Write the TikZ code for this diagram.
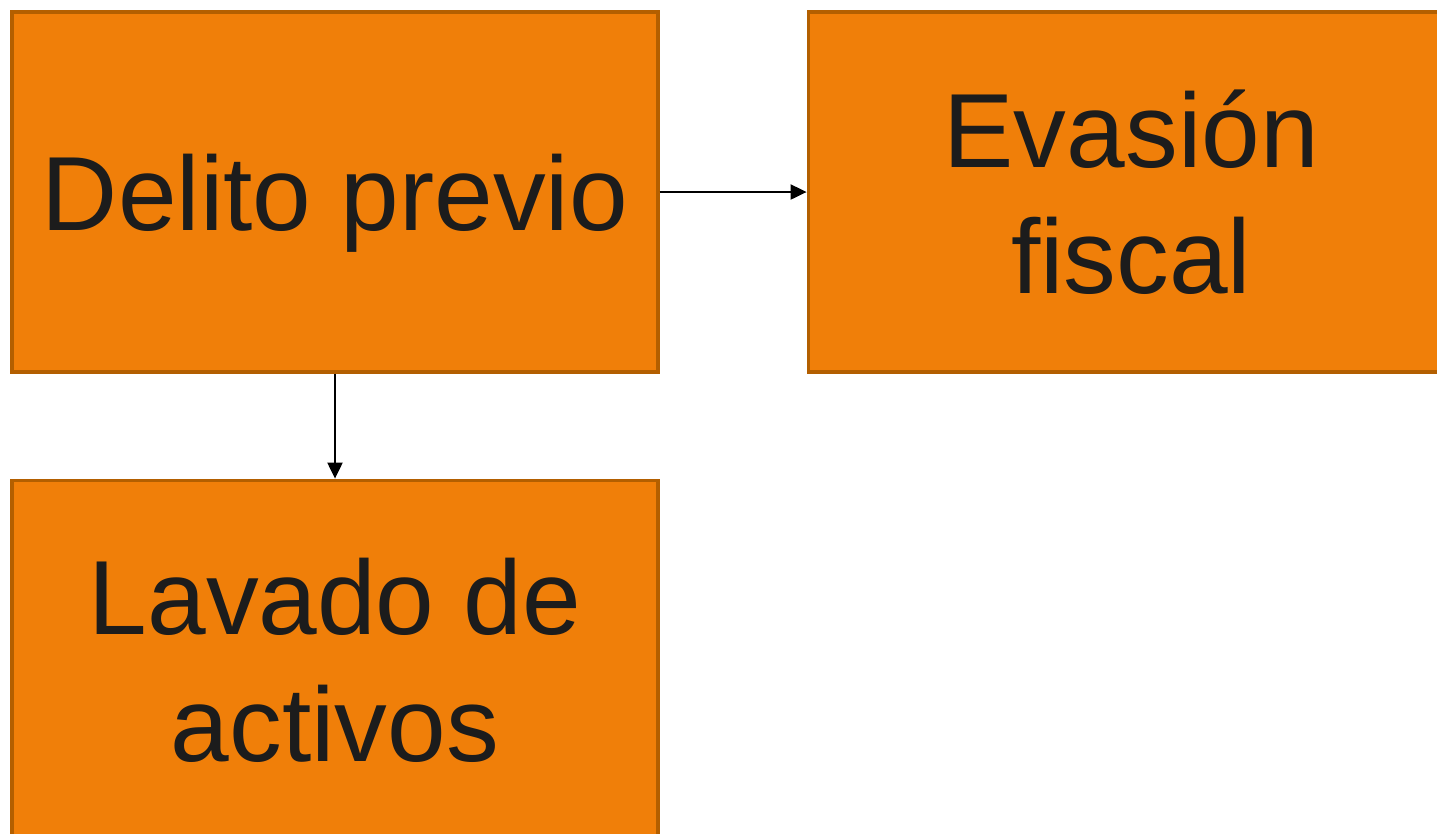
\documentclass[tikz,border=0pt]{standalone}
\usepackage{fontspec}
\setmainfont{Liberation Sans}
\usepackage{tikz}
\usetikzlibrary{positioning}
\usetikzlibrary{arrows.meta}
\definecolor{boxfill}{HTML}{F07F09}
\definecolor{boxline}{HTML}{B35F00}
\definecolor{boxtext}{HTML}{1C1C1C}
\tikzset{%
  every block/.style={
    rectangle,
    draw=boxline,
    fill=boxfill,
    line width=0.9pt,
    inner sep=0pt,
    minimum width=6.46cm,
    minimum height=3.6cm,
    align=center,
    text=boxtext,
    font=\fontsize{30}{36}\selectfont
  },
}

\begin{document}
\begin{tikzpicture}[> = {Triangle[length=1.6mm,width=1.5mm]}]
\useasboundingbox (0,0) rectangle (14.37,-8.33);
\clip (0,0) rectangle (14.37,-8.33);
    \node[every block, text depth=0pt] (delito) at (3.35,-1.92) {Delito previo};
    \node[every block, right=1.47cm of delito] (evasion) {Evasión\\fiscal};
    \node[every block, below=1.05cm of delito] (lavado) {Lavado de\\activos};

    \draw[line width=0.6pt, ->] (delito.east) -- (evasion.west);
    \draw[line width=0.6pt, ->] (delito.south) -- (lavado.north);
\end{tikzpicture}
\end{document}
